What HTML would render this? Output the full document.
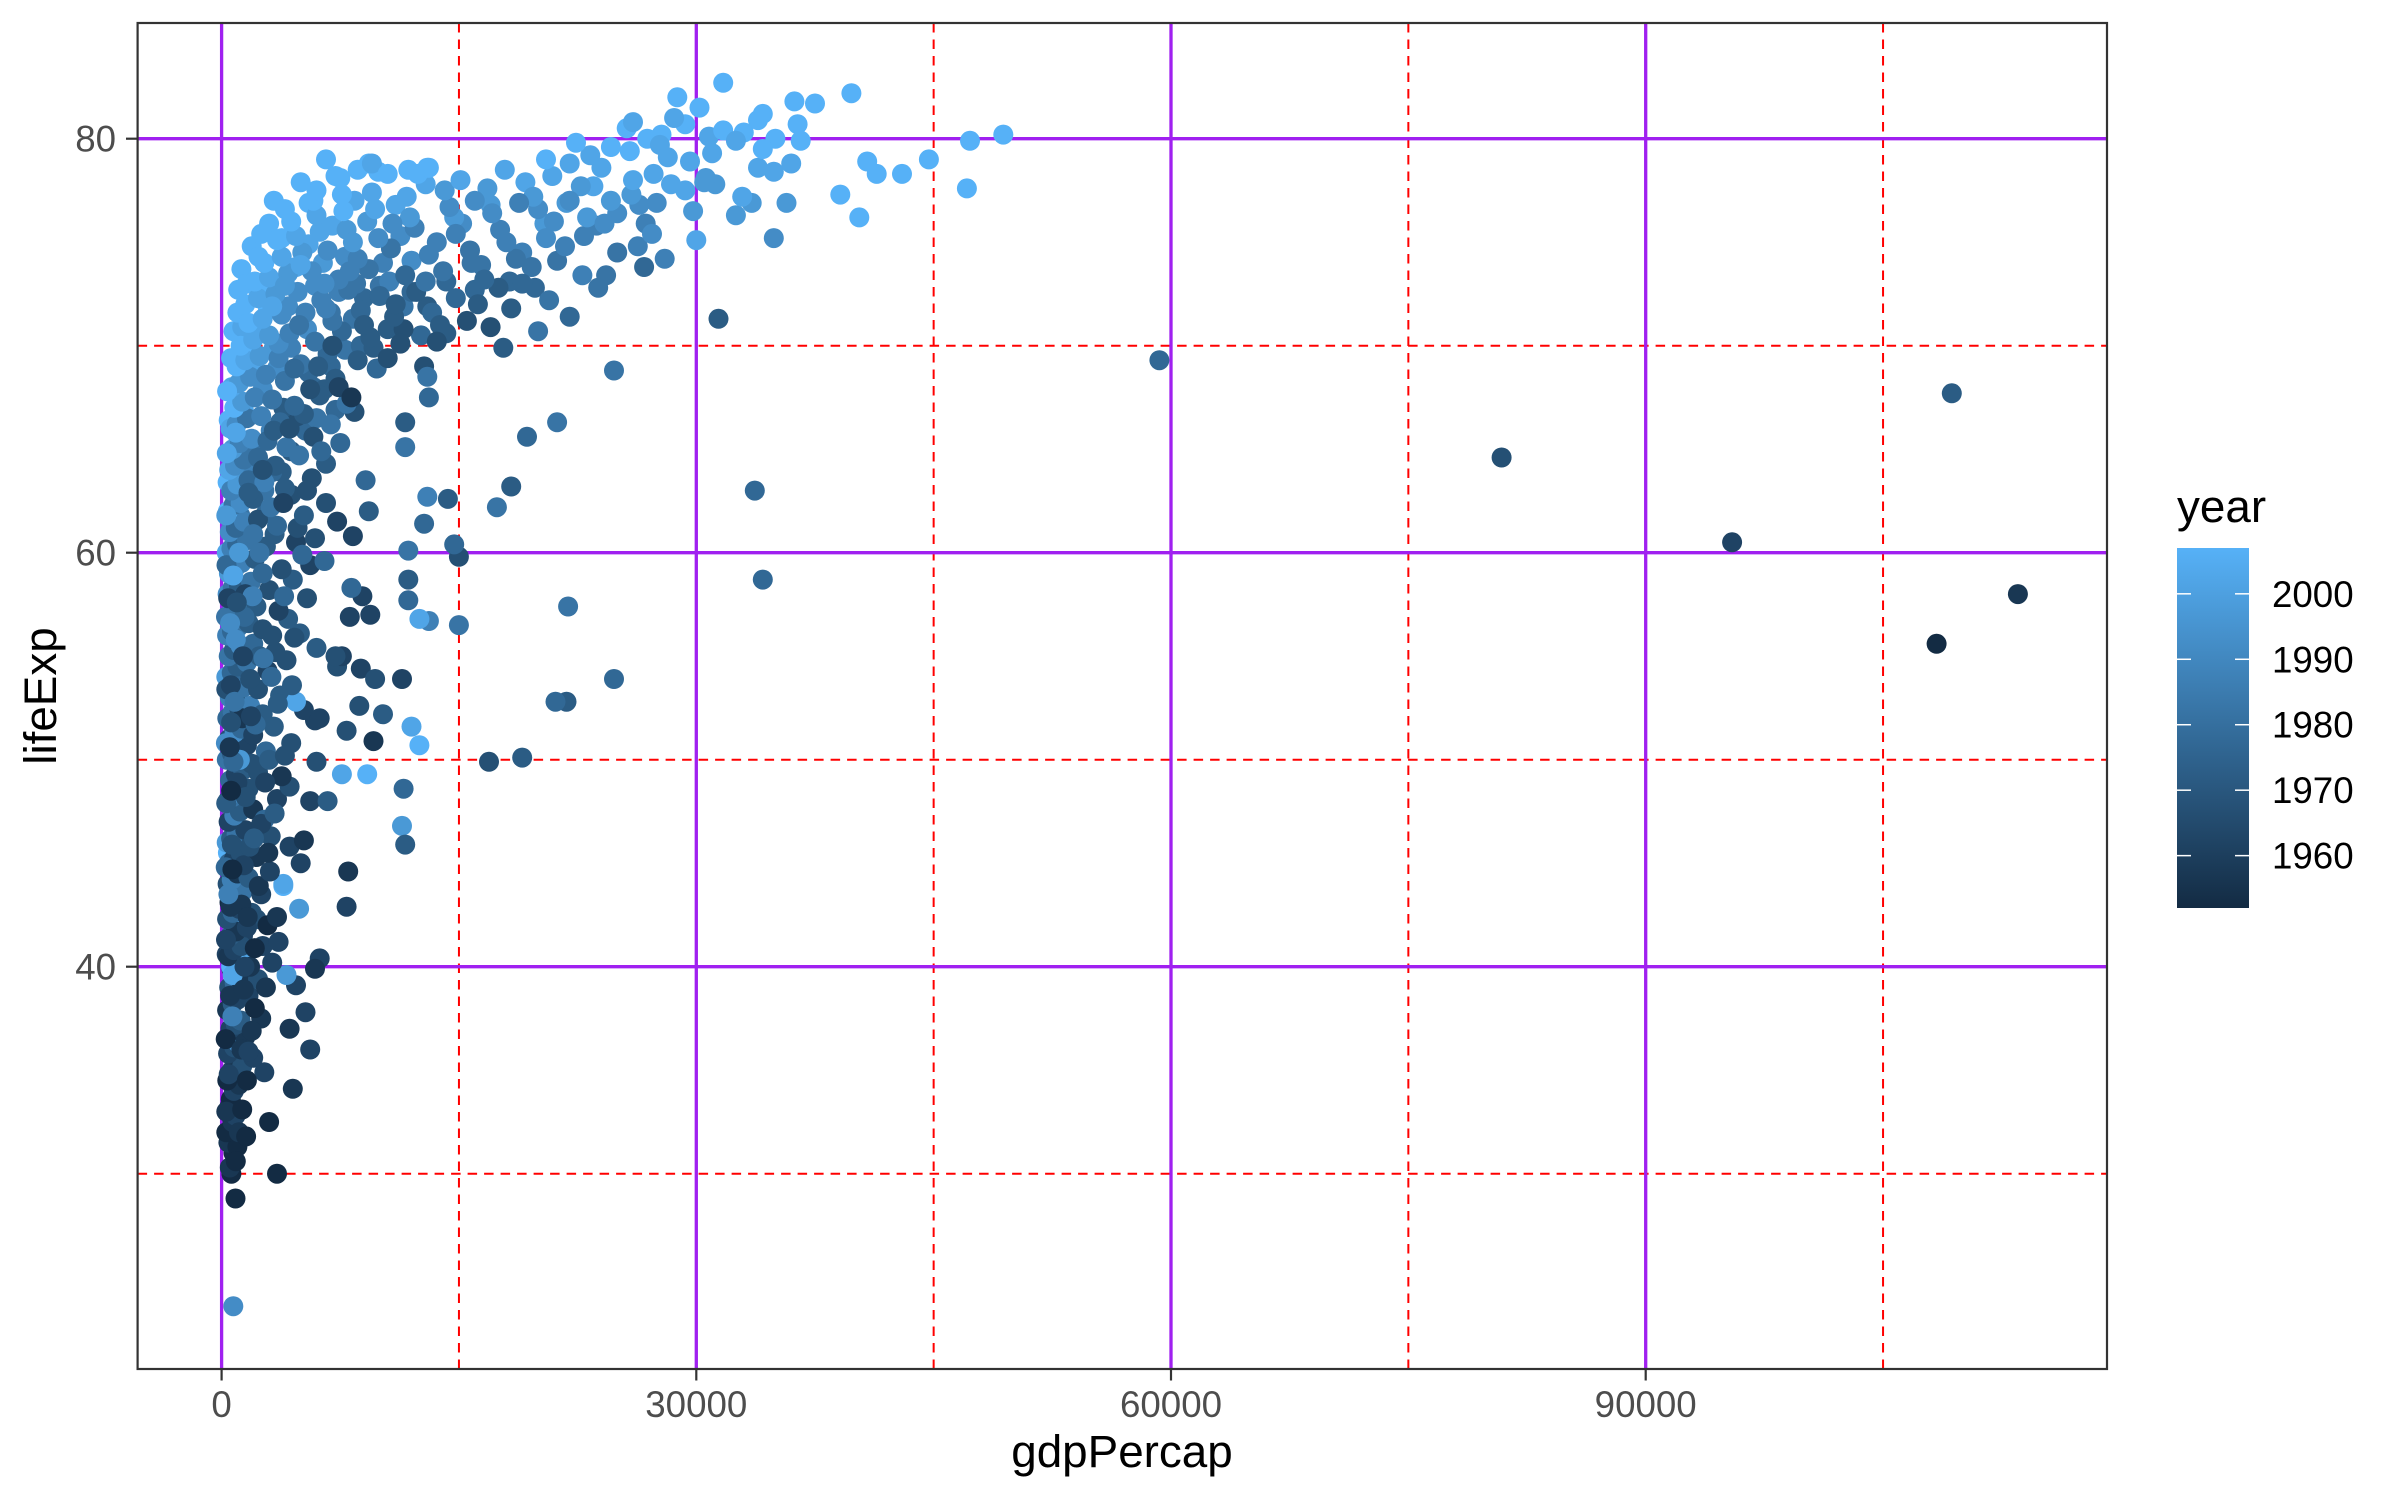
<!DOCTYPE html>
<html><head><meta charset="utf-8"><title>gdpPercap vs lifeExp</title>
<style>html,body{margin:0;padding:0;background:#fff}svg{display:block}text{font-family:"Liberation Sans",Arial,sans-serif}</style>
</head><body>
<svg id="chart" xmlns="http://www.w3.org/2000/svg" width="2399" height="1499" viewBox="0 0 2399 1499">
<rect x="0" y="0" width="2399" height="1499" fill="#fff"/>
<g id="grid"></g>
<g id="points"></g>
<rect x="137.6" y="23" width="1969.4" height="1346" fill="none" stroke="#333" stroke-width="2.2"/>
<g id="axes"></g>
<text x="1122" y="1467" font-size="45.8" text-anchor="middle" fill="#000">gdpPercap</text>
<text transform="translate(56,696) rotate(-90)" font-size="45.8" text-anchor="middle" fill="#000">lifeExp</text>
<g id="legend">
<defs><linearGradient id="yg" x1="0" y1="1" x2="0" y2="0"><stop offset="0" stop-color="#132B43"/><stop offset="1" stop-color="#56B1F7"/></linearGradient></defs>
<text x="2177" y="522" font-size="45.8" fill="#000">year</text>
<rect x="2177" y="548" width="72" height="360" fill="url(#yg)"/>
</g>
</svg>
<script>
const xTicks = [0, 30000, 60000, 90000];
const xMinor = [15000, 45000, 75000, 105000];
const yTicks = [40, 60, 80];
const yMinor = [30, 50, 70];
const legendYears = [1960, 1970, 1980, 1990, 2000];
const yearRange = [1952, 2007];

const outliers = [[59265,69.3,1977],[80895,64.6,1967],[95458,60.5,1962],[108382,55.6,1952],[109348,67.7,1972],[113523,58.0,1957]];
const lowColumn = [[737,23.6,1992],[880,28.8,1952],[620,30.0,1952],[3500,30.0,1952],[520,30.3,1957],[750,31.0,1952],[430,31.5,1957],[1000,31.3,1952],[300,32.0,1952],[690,32.5,1957],[880,32.8,1962],[3000,32.5,1952],[480,33.2,1957],[580,33.6,1952],[780,34.0,1962],[1100,34.3,1957],[360,34.5,1952],[4500,34.1,1957],[650,35.0,1962],[920,35.3,1957],[1300,35.2,1967],[2700,34.9,1962],[410,35.8,1962],[800,36.1,1967],[1050,36.3,1992],[1500,36.6,1957],[5600,36.0,1962],[560,37.0,1962],[900,37.2,1967],[1200,37.4,1972],[2500,37.5,1957],[4300,37.0,1957],[350,37.9,1957],[700,38.2,1972],[1000,38.4,1962],[1700,38.6,1962],[5300,37.8,1962],[480,39.0,1967],[830,39.2,1977],[1150,39.4,1957],[2300,39.4,1967],[4700,39.1,1962],[4100,39.6,1997],[620,39.9,1967],[950,40.1,1972],[1400,40.3,2002],[600,40.0,2007],[3200,40.2,1962],[6200,40.4,1962],[5900,39.9,1957],[700,39.6,2002],[950,42.1,2007],[500,43.8,2002],[1200,46.5,1997],[800,41.0,2007],[400,45.5,2007],[3900,43.9,2007],[4900,42.8,1997],[8000,44.6,1957],[7900,42.9,1962],[300,33.0,1957],[450,34.8,1962],[260,36.5,1952],[540,38.6,1957],[320,40.6,1962],[1300,33.1,1952],[1600,34.5,1952],[1900,36.9,1957],[2100,38.0,1952],[1400,38.9,1957],[1800,40.0,1957],[2600,41.0,1962],[1100,32.0,1957],[1550,31.8,1952],[2000,35.6,1962],[1250,36.0,1957],[2800,39.0,1957],[900,30.6,1952],[1350,41.5,1962],[680,37.6,1987],[1700,35.9,1962],[2200,42.3,1967]];
const midColumn = [[420,40.5,1957],[780,40.8,1962],[1250,41.0,1967],[2100,40.9,1952],[3600,41.2,1962],[560,41.5,1972],[900,41.7,1957],[1600,41.9,1962],[2900,42.0,1952],[350,42.3,1967],[700,42.6,1977],[1100,42.8,1962],[1900,42.6,1967],[3500,42.4,1957],[500,43.1,1952],[850,43.4,1972],[1300,43.6,1982],[2500,43.5,1962],[380,44.0,1967],[640,44.2,1987],[1000,44.5,1957],[1700,44.3,1972],[3900,44.0,2002],[5000,45.0,1962],[460,45.0,1977],[780,45.2,1962],[1200,45.5,1967],[2200,45.3,1957],[4300,45.8,1962],[320,46.0,1997],[600,46.2,1972],[950,46.4,1982],[1500,46.6,1962],[3100,46.3,1967],[5200,46.1,1957],[440,47.0,1962],[800,47.3,1987],[1150,47.5,1972],[2000,47.6,1957],[2700,47.1,1977],[380,48.0,1967],[700,48.2,1982],[1050,48.4,1992],[1700,48.6,1967],[3500,48.1,1962],[5600,48.0,1962],[4300,48.7,1967],[540,49.0,1977],[900,49.3,1962],[1350,49.5,1972],[2300,49.4,1967],[3800,49.2,1957],[7600,49.3,2002],[9200,49.3,2007],[6000,49.9,1967],[330,50.0,1982],[650,50.3,1972],[1000,50.5,1987],[1600,50.7,1962],[2800,50.4,1977],[4400,50.8,1967],[9600,50.9,1957],[470,51.0,1967],[820,51.3,1992],[1250,51.5,1977],[2000,51.2,1962],[3300,51.6,1972],[5900,51.9,1962],[7900,51.4,1967],[360,52.0,1977],[700,52.3,1982],[1100,52.5,1967],[1800,52.6,1987],[2600,52.2,1972],[5200,52.4,1962],[520,53.0,1987],[900,53.2,1972],[1400,53.5,1982],[2300,53.4,1967],[3700,53.1,1972],[4700,52.8,2002],[300,54.0,1997],[640,54.2,1977],[1000,54.5,1972],[1600,54.7,1982],[2900,54.3,1962],[4100,54.8,1967],[7300,54.5,1967],[8800,54.4,1962],[450,55.0,1982],[780,55.3,1972],[1200,55.5,1992],[2000,55.6,1977],[3400,55.2,1967],[6000,55.4,1972],[7600,55.0,1962],[350,56.0,1987],[660,56.2,1977],[1050,56.4,1982],[1700,56.6,1972],[2600,56.3,1967],[4200,56.8,1972],[8100,56.9,1962],[500,57.0,2002],[850,57.3,1977],[1300,57.5,1987],[2200,57.4,1972],[3600,57.2,1962],[5400,57.8,1967],[8900,57.9,1962],[380,58.0,1992],[700,58.3,1982],[1100,58.4,1972],[1850,58.6,1982],[3000,58.2,1967],[4500,58.7,1972],[8200,58.3,1977],[460,59.0,1997],[800,59.2,1982],[1250,59.5,1987],[2100,59.7,1972],[3800,59.2,1967],[5600,59.4,1962],[6500,59.6,1977],[330,60.0,2002],[620,60.2,1987],[980,60.4,1977],[1600,60.6,1982],[2800,60.3,1972],[4700,60.5,1962],[5900,60.7,1967],[8300,60.8,1962],[280,41.3,1962],[260,44.8,1977],[290,47.9,1972],[270,50.8,1992],[300,53.4,1967],[280,56.9,1982],[310,59.4,1977],[560,42.9,1957],[1400,44.9,1962],[2500,46.9,1962],[1900,49.8,1967],[1300,52.0,1957],[2400,55.0,1972],[1500,58.0,1962],[2600,59.0,1977],[3200,56.0,1967],[1800,53.9,1967],[3000,50.0,1972],[1000,48.9,1962],[600,51.8,1967],[900,55.8,1992],[1100,60.0,1997]];
const columnFill = [[1450,40.0,1962],[2350,43.9,1957],[3050,44.6,1962],[1780,45.8,1967],[2750,48.9,1962],[3350,47.4,1972],[4000,50.2,1967],[3550,52.7,1972],[4450,53.6,1972],[3950,57.9,1977],[4950,56.1,1972],[5100,59.9,1977],[1450,56.9,1977],[1950,57.9,1987],[2400,60.0,1982],[3350,60.9,1972],[1150,50.0,1997],[1520,48.2,1967],[2150,51.7,1977],[2650,54.9,1982],[3150,54.0,1977],[4600,55.9,1967],[1350,55.0,1962],[1850,52.1,1962],[2950,45.5,1957],[2050,46.2,1972],[1250,43.0,1957],[1650,42.4,1957],[650,45.9,1967],[750,49.9,1977],[580,53.6,1962],[540,56.6,1992],[730,58.9,2002],[560,61.6,1992],[420,57.8,1962],[510,50.6,1957],[600,48.5,1952],[430,43.5,1987],[680,44.7,1952],[820,52.8,1982],[960,57.6,1967],[1180,61.8,1982],[2800,61.9,1977],[3800,63.9,1972],[4800,61.2,1967],[1600,63.9,1992],[2150,65.0,1982],[3200,63.9,1977],[4400,64.9,1972],[5300,65.9,1977],[6000,66.5,1982],[2600,67.9,1992],[3500,68.9,1992],[4400,69.9,1987],[5400,70.8,1992],[2000,68.9,2002],[1400,66.9,2002],[1700,69.8,2007],[2300,70.9,2002],[2900,71.9,2007],[3300,69.9,1997],[4200,71.9,1992],[6900,69.0,1977],[7800,69.8,1982],[8800,70.0,1977],[5800,68.0,1977],[4800,66.6,1967],[3900,67.0,1972],[6500,67.9,1972],[7200,66.9,1977],[3100,65.9,1987],[2700,63.0,1982],[2000,64.0,1987],[1100,64.5,2002],[1300,62.9,1997],[850,63.6,2002],[700,61.9,2002],[380,63.4,2007],[450,66.4,2007],[600,69.4,2007],[750,70.7,2007],[1050,72.7,2007],[1250,73.7,2007],[1900,74.8,2007],[2500,75.4,2007],[3000,75.9,2007],[3300,77.0,2007],[4000,76.6,2007],[5000,77.9,2007],[5500,76.9,2007],[6600,79.0,2007],[7000,75.8,2002],[8400,77.0,2002],[9200,76.0,1997],[10200,74.0,1987],[10000,72.9,1982],[11500,71.9,1982],[12600,70.5,1977],[9600,69.9,1972],[8300,71.3,1982],[7400,72.6,1987],[6400,74.0,1997],[5500,74.9,2002],[4700,73.8,2002],[4000,73.0,2002],[3500,72.9,1992],[5900,72.9,1992],[6900,71.6,1982],[10600,73.1,1987],[12000,74.1,1992],[13600,75.0,1987],[15200,75.9,1992],[16400,73.9,1982],[18200,73.1,1977],[19000,74.5,1987],[20400,75.9,1997],[21800,76.9,1997],[23500,77.7,2002],[25000,76.4,1992],[26800,75.9,1987],[28400,77.8,2002],[29600,78.9,2002],[24600,79.6,2007],[26900,80.0,2007],[22000,78.8,2002],[19200,77.9,2002],[17000,76.8,1997],[14700,76.2,1997],[12900,77.8,2002],[11000,76.8,2002],[16000,72.7,1977],[14200,73.1,1977],[13000,71.9,1972],[12000,72.6,1977],[10500,70.8,1972],[9000,72.3,1977],[8500,73.0,1982],[7800,74.3,1992],[11300,75.3,1992],[19800,72.8,1977],[21200,74.1,1982],[22900,75.3,1987],[24300,73.4,1982],[26300,74.8,1987],[27500,76.9,1992],[31200,77.8,1997],[32500,76.3,1997],[30800,80.1,2002],[33000,80.3,2007],[35000,80.0,2007]];
const upperColumn = [[520,61.0,1992],[900,61.2,1977],[1400,61.5,1987],[2300,61.6,1967],[3500,61.3,1977],[5200,61.8,1972],[7300,61.5,1962],[400,62.0,2007],[750,62.3,1982],[1200,62.4,1992],[2000,62.6,1972],[3100,62.2,1982],[4400,62.8,1967],[6600,62.4,1967],[9300,62.0,1972],[600,63.0,1987],[1000,63.3,1997],[1700,63.5,1977],[2700,63.4,1987],[4000,63.1,1972],[5700,63.6,1967],[9100,63.5,1977],[480,64.0,2002],[850,64.2,1992],[1400,64.5,1982],[2300,64.6,1977],[3400,64.2,1972],[4900,64.7,1982],[6600,64.3,1972],[700,65.0,1997],[1150,65.3,1987],[1900,65.5,1992],[2900,65.4,1977],[4100,65.1,1982],[5800,65.6,1967],[7500,65.3,1977],[560,66.0,2002],[950,66.2,1992],[1600,66.5,1982],[2500,66.6,1987],[3700,66.3,1977],[5200,66.7,1972],[6900,66.2,1982],[8400,66.8,1967],[800,67.0,2007],[1300,67.3,1997],[2100,67.5,1987],[3200,67.4,1982],[4600,67.1,1977],[6200,67.6,1972],[7900,67.2,1982],[650,68.0,2002],[1100,68.2,1997],[1800,68.5,1992],[2800,68.6,1987],[4000,68.3,1982],[5500,68.7,1977],[7200,68.4,1972],[9800,68.9,1977],[950,69.0,2007],[1500,69.3,2002],[2400,69.5,1997],[3600,69.4,1987],[5000,69.1,1982],[6700,69.6,1977],[8600,69.3,1972],[10500,69.4,1967],[12800,69.0,1967],[300,61.8,1997],[330,64.8,2002],[350,67.8,2007],[1700,62.9,1972],[2600,64.0,1967],[3300,65.9,1972],[4300,66.0,1967],[5600,67.9,1967],[6100,69.0,1972],[7400,68.0,1962],[8200,67.5,1957],[1300,70.9,2002],[2700,72.9,2007],[3600,70.1,1992],[4600,68.9,1977],[6300,64.9,1977],[2000,60.9,1982],[1000,71.6,2007],[1600,73.0,2007],[2330,74.3,2007],[3800,75.2,2007],[900,65.8,2002],[3900,62.4,1962],[5400,63.0,1967]];
const band = [[1200,70.0,2007],[2000,70.3,2002],[3000,70.5,1997],[4300,70.6,1987],[5900,70.2,1982],[7600,70.7,1977],[9400,70.4,1972],[11500,70.8,1967],[14200,70.6,1972],[17000,70.9,1967],[20000,70.7,1982],[1700,71.1,2007],[2600,71.3,2002],[3800,71.5,1992],[5300,71.6,1987],[7000,71.2,1982],[8800,71.7,1977],[10900,71.4,1972],[13300,71.6,1977],[15500,71.2,1967],[18300,71.8,1972],[22000,71.4,1977],[31400,71.3,1972],[1500,72.0,2007],[2300,72.3,2002],[3400,72.5,1997],[4800,72.6,1992],[6300,72.2,1987],[8000,72.7,1982],[10000,72.4,1977],[12300,72.6,1972],[14800,72.3,1977],[17500,72.8,1972],[20700,72.2,1982],[23800,72.8,1982],[2100,73.1,2007],[3000,73.3,2002],[4200,73.5,1997],[5700,73.6,1992],[7400,73.2,1987],[9300,73.7,1982],[11600,73.4,1977],[14000,73.6,1982],[16600,73.2,1977],[19600,73.8,1982],[22800,73.4,1987],[26700,73.8,1977],[2700,74.0,2007],[3800,74.3,2002],[5100,74.5,1997],[6700,74.6,1992],[8600,74.2,1987],[10700,74.7,1982],[13100,74.4,1987],[15700,74.6,1982],[18600,74.2,1982],[21700,74.8,1987],[25000,74.5,1982],[28000,74.2,1987],[3500,75.1,2007],[4700,75.3,2002],[6200,75.5,2002],[7900,75.6,1997],[9900,75.2,1992],[12200,75.7,1987],[14800,75.4,1987],[17600,75.6,1987],[20500,75.2,1992],[23700,75.8,1987],[27200,75.4,1992],[30000,75.1,2002],[34900,75.2,1992],[4400,76.0,2007],[6000,76.3,2002],[7700,76.5,2007],[9700,76.6,2002],[11900,76.2,1997],[14400,76.7,1992],[17100,76.4,1992],[20000,76.6,1992],[23100,76.2,1997],[26400,76.8,1992],[29800,76.5,1997],[33500,76.9,1997],[40300,76.2,2007],[5800,77.0,2007],[7600,77.3,2007],[9500,77.4,2002],[11700,77.2,2002],[14100,77.5,1997],[16800,77.6,1997],[19700,77.2,1997],[22700,77.7,1997],[25900,77.3,1997],[29300,77.5,2002],[32900,77.2,2002],[39100,77.3,2007],[47100,77.6,2007],[7500,78.1,2007],[9900,78.4,2007],[12400,78.3,2007],[15100,78.0,2002],[17900,78.5,2002],[20900,78.2,2002],[24000,78.6,2002],[27300,78.3,2002],[30600,78.1,1997],[33900,78.6,2002],[41400,78.3,2007],[43000,78.3,2007],[9300,78.8,2007],[13000,78.6,2007],[20500,79.0,2007],[23300,79.2,2002],[25800,79.4,2007],[28200,79.1,2002],[31000,79.3,2002],[34200,79.5,2007],[36600,79.9,2007],[44700,79.0,2007],[40800,78.9,2007],[22400,79.8,2007],[25600,80.5,2007],[27800,80.2,2007],[29300,80.7,2007],[31700,80.4,2007],[33900,80.9,2007],[36400,80.7,2007],[47300,79.9,2007],[49400,80.2,2007],[28800,82.0,2007],[30200,81.5,2007],[31700,82.7,2007],[34200,81.2,2007],[36200,81.8,2007],[37500,81.7,2007],[39800,82.2,2007],[28600,81.0,2002],[26000,80.8,2002],[6000,77.5,2007],[7200,78.2,2007],[8600,78.5,2007],[9500,78.8,2002],[10500,78.3,2007],[11800,78.5,2007],[13100,78.6,2007],[36000,78.8,2002],[34900,78.4,2002],[35700,76.9,1997],[3200,71.9,2002],[4000,72.9,1997],[5000,73.9,2002],[6500,73.0,1992],[8300,75.0,1997],[10800,75.9,1992],[12900,73.1,1982],[15800,74.0,1982],[18000,75.0,1987],[21000,76.0,1992],[24600,77.0,1997],[27700,79.7,2002],[11000,72.0,1972],[13800,71.0,1972],[16200,72.0,1972],[19000,73.0,1977],[9000,71.0,1972],[7000,70.0,1967],[4900,71.0,1982],[6600,71.8,1987],[8100,73.6,1987],[26000,78.0,2002],[32500,79.9,2002],[30500,77.9,1997],[22000,77.0,1992],[18800,76.9,1987],[16000,77.0,1992],[24200,75.9,1992],[11300,70.1,1967],[13600,70.2,1967],[17800,69.9,1972]];
const scattered = [[24800,53.9,1977],[24800,68.8,1982],[21800,52.8,1972],[21100,52.8,1977],[21900,57.4,1982],[19000,50.1,1972],[16900,49.9,1967],[18300,63.2,1972],[19300,65.6,1977],[17400,62.2,1982],[21200,66.3,1982],[15000,59.8,1967],[14700,60.4,1977],[15000,56.5,1982],[13100,56.7,1987],[12500,56.8,2002],[11800,57.7,1977],[11800,58.7,1972],[12800,61.4,1977],[11800,60.1,1982],[14300,62.6,1972],[13000,62.7,1987],[13100,67.5,1977],[13000,68.5,1982],[11600,65.1,1982],[11600,66.3,1972],[12000,51.6,2002],[12500,50.7,2007],[11500,48.6,1977],[11400,46.8,1997],[11600,45.9,1972],[9700,53.9,1967],[11400,53.9,1962],[33700,63.0,1977],[34200,58.7,1977],[10200,52.2,1972],[9400,57.0,1962],[8700,52.6,1967],[6700,48.0,1972],[6200,52.0,1962],[7200,55.0,1967]];

const groups = [lowColumn, midColumn, columnFill, upperColumn, scattered, band, outliers];

const X = v => 221.6 + v * 474.7 / 30000;
const Y = v => 138.7 + (80 - v) * 20.7;
const NS = 'http://www.w3.org/2000/svg';
function mk(tag, attrs, parent) {
  const el = document.createElementNS(NS, tag);
  for (const k in attrs) el.setAttribute(k, attrs[k]);
  parent.appendChild(el);
  return el;
}
function yearColor(yr) {
  const t = Math.max(0, Math.min(1, (yr - yearRange[0]) / (yearRange[1] - yearRange[0])));
  const a = [19, 43, 67], b = [86, 177, 247];
  return 'rgb(' + a.map((c, i) => Math.round(c + (b[i] - c) * t)).join(',') + ')';
}
const grid = document.getElementById('grid');
xMinor.forEach(v => {
  const l = mk('line', {x1: X(v), x2: X(v), y1: 23, y2: 1369, stroke: '#FF0000', 'stroke-width': 2, 'stroke-dasharray': '9.5,7'}, grid);
  
  
});
yMinor.forEach(v => {
  const l = mk('line', {x1: 137.6, x2: 2107, y1: Y(v), y2: Y(v), stroke: '#FF0000', 'stroke-width': 2, 'stroke-dasharray': '9.5,7'}, grid);
  
  
});
xTicks.forEach(v => {
  const l = mk('line', {x1: X(v), x2: X(v), y1: 23, y2: 1369, stroke: '#A020F0', 'stroke-width': 3.3}, grid);
  
  
});
yTicks.forEach(v => {
  const l = mk('line', {x1: 137.6, x2: 2107, y1: Y(v), y2: Y(v), stroke: '#A020F0', 'stroke-width': 3.3}, grid);
  
  
});
const pts = document.getElementById('points');
groups.forEach(g => g.forEach(p => {
  const c = mk('circle', {cx: X(p[0]).toFixed(1), cy: Y(p[1]).toFixed(1), r: 10, fill: yearColor(p[2])}, pts);
  
  
}));
const axes = document.getElementById('axes');
xTicks.forEach(v => {
  const t = mk('line', {x1: X(v), x2: X(v), y1: 1369, y2: 1380.5, stroke: '#333', 'stroke-width': 2.2}, axes);
  
  
  const s = mk('text', {x: X(v), y: 1417, 'font-size': 36.7, 'text-anchor': 'middle', fill: '#4D4D4D'}, axes);
  s.textContent = String(v);
  
  
});
yTicks.forEach(v => {
  const t = mk('line', {x1: 126, x2: 137.6, y1: Y(v), y2: Y(v), stroke: '#333', 'stroke-width': 2.2}, axes);
  
  
  const s = mk('text', {x: 116, y: Y(v) + 13, 'font-size': 36.7, 'text-anchor': 'end', fill: '#4D4D4D'}, axes);
  s.textContent = String(v);
  
  
});
const leg = document.getElementById('legend');
const LY = yr => 908 - (yr - yearRange[0]) * 360 / (yearRange[1] - yearRange[0]);
legendYears.forEach(yr => {
  const a = mk('line', {x1: 2177, x2: 2191, y1: LY(yr), y2: LY(yr), stroke: '#fff', 'stroke-width': 1.5}, leg);
  
  
  const b = mk('line', {x1: 2235, x2: 2249, y1: LY(yr), y2: LY(yr), stroke: '#fff', 'stroke-width': 1.5}, leg);
  
  
  const s = mk('text', {x: 2272, y: LY(yr) + 13, 'font-size': 36.7, fill: '#000'}, leg);
  s.textContent = String(yr);
  
  
});
</script>
</body></html>
